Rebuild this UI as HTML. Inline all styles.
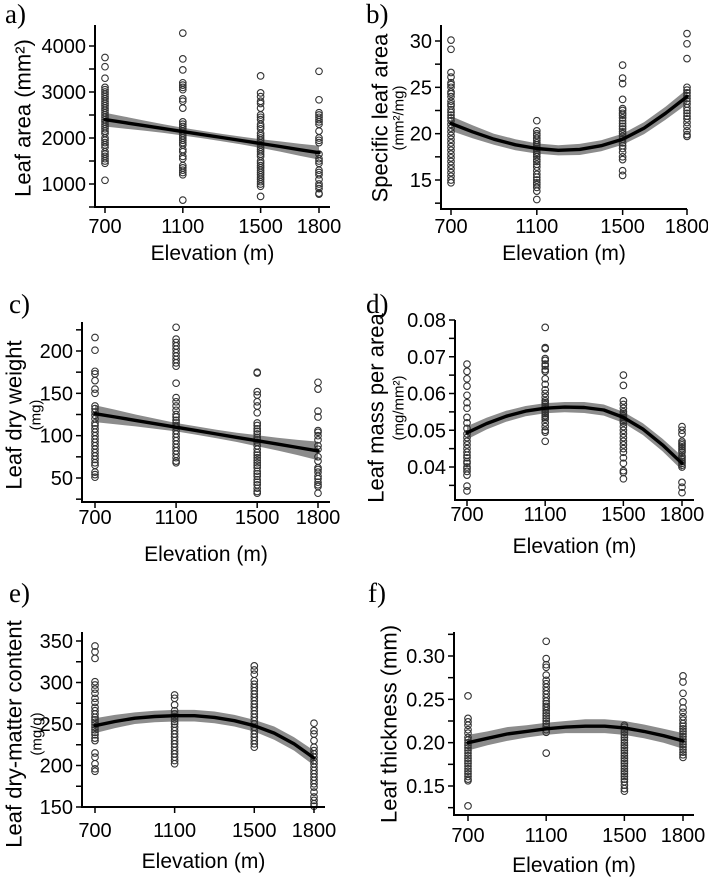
<!DOCTYPE html>
<html><head><meta charset="utf-8">
<style>
body{margin:0;background:#fff;}
svg{display:block;font-family:"Liberation Sans",Arial,sans-serif;}
.tk{font-size:20px;fill:#000;}
.xt{font-size:21px;fill:#000;}
.pl{font-family:"Liberation Serif",serif;font-size:27px;fill:#000;}
</style></head>
<body>
<svg id="fig" width="708" height="879" viewBox="0 0 708 879"></svg>
<script>
const elevations = [700, 1100, 1500, 1800];
const fitElev = [700,800,900,1000,1100,1200,1300,1400,1500,1600,1700,1800];

// a) Leaf area
const leafArea700 = [3750,3550,3300,3100,3050,3000,2950,2900,2850,2800,2750,2700,2650,2600,2550,2500,2450,2400,2350,2300,2250,2200,2150,2100,2000,1950,1900,1850,1800,1700,1650,1600,1550,1500,1450,1080];
const leafArea1100 = [4280,3720,3480,3200,3150,3100,3050,2850,2800,2650,2350,2300,2250,2200,2150,2100,2050,2000,1950,1900,1850,1750,1700,1600,1550,1400,1350,1300,1250,1200,650];
const leafArea1500 = [3350,2980,2900,2800,2750,2650,2500,2450,2400,2300,2250,2200,2100,2050,2000,1950,1900,1850,1800,1750,1700,1650,1600,1500,1450,1400,1350,1300,1250,1200,1150,1100,1050,1000,950,730];
const leafArea1800 = [3450,2830,2550,2500,2450,2400,2350,2300,2150,2000,1950,1900,1650,1550,1500,1450,1300,1250,1200,1100,1000,950,900,800,780];
const leafAreaFit = [2400,2335,2270,2205,2140,2075,2010,1945,1880,1815,1745,1680];
const leafAreaBand = [150,130,110,95,85,80,80,85,95,110,130,150];
const leafAreaTicks = [1000,2000,3000,4000];

// b) Specific leaf area
const sla700 = [30.1,29.1,26.6,26.1,25.5,25.3,25,24.5,24.3,24,23.5,23.2,23,22.6,22.3,22,21.7,21.4,21,20.6,20.2,19.8,19.4,19,18.6,18.2,17.8,17.4,17,16.6,16.2,15.8,15.4,15,14.7];
const sla1100 = [21.4,20.3,20,19.8,19.5,19.3,19,18.8,18.6,18.4,18.2,18,17.8,17.5,17.2,17,16.7,16.4,16,15.6,15.3,15,14.7,14.5,14.2,13.8,12.9];
const sla1500 = [27.4,26,25.4,23.7,22.7,22.5,22.2,22,21.7,21.4,21.1,20.8,20.5,20.2,20,19.7,19.4,19,18.7,18.4,18,17.5,17.2,16,15.5];
const sla1800 = [30.8,29.7,28.1,25,24.7,24.4,24.1,23.8,23.5,23.2,22.8,22.5,22.2,21.9,21.6,21.2,20.8,20.3,19.9,19.7];
const slaFit = [21.1,20.2,19.4,18.8,18.4,18.2,18.3,18.7,19.4,20.6,22.2,24.0];
const slaBand = [0.8,0.7,0.6,0.6,0.55,0.55,0.6,0.6,0.6,0.65,0.7,0.8];
const slaTicks = [15,20,25,30];

// c) Leaf dry weight
const ldw700 = [216,201,176,173,165,155,150,135,132,128,124,120,115,112,108,104,100,96,92,88,84,80,76,72,68,65,57,54,51];
const ldw1100 = [228,214,210,206,202,198,194,190,186,182,162,145,140,135,130,125,122,118,115,112,110,106,102,98,94,90,86,82,78,74,70,68];
const ldw1500 = [175,174,152,148,140,135,127,115,112,108,105,102,98,95,92,88,84,80,77,74,71,68,65,62,58,55,52,48,45,42,38,34,32];
const ldw1800 = [163,155,129,122,106,104,100,95,88,84,75,70,62,60,57,52,49,45,42,40,32];
const ldwFit = [126,122,118,114,110,106,102,98,94,90,86,82];
const ldwBand = [10,8.5,7,6,5,5,5,5.5,6.5,7.5,9,11];
const ldwTicks = [50,100,150,200];

// d) Leaf mass per area
const lma700 = [.068,.066,.064,.062,.0595,.0575,.056,.0535,.052,.0505,.049,.048,.047,.046,.045,.044,.0432,.0425,.0415,.041,.040,.0395,.0388,.0378,.0348,.0335];
const lma1100 = [.078,.0725,.0722,.0695,.069,.068,.0675,.0665,.066,.064,.0625,.061,.060,.059,.058,.0575,.057,.0565,.056,.0555,.055,.0545,.054,.0535,.053,.052,.051,.050,.0495,.047];
const lma1500 = [.065,.0622,.058,.057,.056,.055,.0545,.054,.0535,.053,.0525,.052,.051,.050,.049,.048,.047,.046,.045,.044,.0425,.041,.039,.0385,.0368];
const lma1800 = [.051,.050,.049,.047,.0465,.046,.0455,.045,.0445,.044,.043,.0425,.042,.0415,.041,.0405,.040,.0358,.0345,.033];
const lmaFit = [.0493,.0518,.0538,.0552,.0560,.0563,.0562,.0555,.0535,.0503,.0460,.0410];
const lmaBand = [.0018,.0016,.0015,.0014,.0014,.0014,.0015,.0015,.0015,.0016,.0017,.0019];
const lmaTicks = [0.04,0.05,0.06,0.07,0.08];

// e) Leaf dry-matter content
const ldmc700 = [344,337,329,301,297,292,287,281,276,270,266,262,258,255,252,249,246,243,240,237,233,230,215,210,202,196,193];
const ldmc1100 = [285,281,273,266,262,259,256,253,250,246,242,238,234,230,226,222,218,214,210,206,202];
const ldmc1500 = [320,315,310,302,298,294,290,286,282,278,274,270,266,262,258,254,250,246,242,238,234,230,226,222];
const ldmc1800 = [251,242,238,230,222,218,214,210,206,202,198,194,190,186,182,178,174,168,162,158,154,151];
const ldmcFit = [248,253,257,259,260,260,258,254,248,239,226,209];
const ldmcBand = [9,8,7,7,7,7,7,7,7,8,8,9];
const ldmcTicks = [150,200,250,300,350];

// f) Leaf thickness
const lt700 = [.254,.228,.224,.22,.215,.211,.206,.203,.2,.197,.194,.191,.188,.185,.182,.179,.176,.173,.17,.167,.164,.161,.158,.156,.127];
const lt1100 = [.317,.297,.29,.287,.278,.272,.268,.264,.26,.256,.252,.248,.245,.242,.24,.237,.234,.231,.228,.225,.222,.219,.215,.212,.188];
const lt1500 = [.22,.218,.215,.212,.209,.206,.203,.2,.197,.194,.191,.188,.185,.182,.179,.176,.173,.17,.167,.164,.161,.158,.155,.151,.147,.144];
const lt1800 = [.277,.27,.257,.247,.24,.235,.23,.226,.222,.219,.216,.213,.21,.207,.204,.201,.198,.195,.192,.189,.186,.183];
const ltFit = [.200,.205,.210,.213,.216,.218,.219,.219,.217,.213,.208,.202];
const ltBand = [.009,.008,.008,.007,.007,.007,.008,.008,.008,.008,.008,.009];
const ltTicks = [0.15,0.20,0.25,0.30];

const NS = "http://www.w3.org/2000/svg";
const svg = document.getElementById('fig');
function mk(tag, attrs, parent){const e=document.createElementNS(NS,tag);for(const k in attrs)e.setAttribute(k,attrs[k]);(parent||svg).appendChild(e);return e;}

const panels = [
 {id:'a',label:'a)',lx:5,ly:23,groups:[leafArea700,leafArea1100,leafArea1500,leafArea1800],fit:leafAreaFit,band:leafAreaBand,ticks:leafAreaTicks,fmt:v=>String(v),minor:500,
  ax:95,top:25,bot:207,right:330,x1:105,x2:319,v1:4000,p1:46,v2:1000,p2:184,xlab:233,elab:260,
  title:['Leaf area (mm²)'],tx:[23],ty:118},
 {id:'b',label:'b)',lx:366,ly:23,groups:[sla700,sla1100,sla1500,sla1800],fit:slaFit,band:slaBand,ticks:slaTicks,fmt:v=>String(v),minor:2.5,
  ax:441,top:25,bot:209,right:687,x1:451,x2:687,v1:30,p1:41,v2:15,p2:180,xlab:233,elab:260,
  title:['Specific leaf area','(mm²/mg)'],tx:[380,399],ty:118},
 {id:'c',label:'c)',lx:9,ly:313,groups:[ldw700,ldw1100,ldw1500,ldw1800],fit:ldwFit,band:ldwBand,ticks:ldwTicks,fmt:v=>String(v),minor:25,
  ax:82,top:322,bot:502,right:330,x1:95,x2:318,v1:200,p1:351,v2:50,p2:478,xlab:524,elab:561,
  title:['Leaf dry weight','(mg)'],tx:[14,36],ty:415},
 {id:'d',label:'d)',lx:366,ly:313,groups:[lma700,lma1100,lma1500,lma1800],fit:lmaFit,band:lmaBand,ticks:lmaTicks,fmt:v=>v.toFixed(2),minor:0.005,
  ax:455,top:320,bot:500,right:694,x1:467,x2:682,v1:0.08,p1:320,v2:0.04,p2:467,xlab:521,elab:553,
  title:['Leaf mass per area','(mg/mm²)'],tx:[376,399],ty:408},
 {id:'e',label:'e)',lx:9,ly:602,groups:[ldmc700,ldmc1100,ldmc1500,ldmc1800],fit:ldmcFit,band:ldmcBand,ticks:ldmcTicks,fmt:v=>String(v),minor:25,
  ax:82,top:632,bot:807,right:325,x1:95,x2:314,v1:350,p1:641,v2:150,p2:807,xlab:837,elab:868,
  title:['Leaf dry-matter content','(mg/g)'],tx:[14,37],ty:734},
 {id:'f',label:'f)',lx:368,ly:602,groups:[lt700,lt1100,lt1500,lt1800],fit:ltFit,band:ltBand,ticks:ltTicks,fmt:v=>v.toFixed(2),minor:0.025,
  ax:454,top:632,bot:815,right:694,x1:468,x2:683,v1:0.30,p1:656,v2:0.15,p2:786,xlab:842,elab:872,
  title:['Leaf thickness (mm)'],tx:[389],ty:724}
];

panels.forEach(p=>{
  const g = mk('g',{});
  
  
  const xs = e => p.x1 + (e-700)*(p.x2-p.x1)/1100;
  const ys = v => p.p2 + (v-p.v2)*(p.p1-p.p2)/(p.v1-p.v2);

  const pl = mk('text',{x:p.lx,y:p.ly,class:'pl'},g); pl.textContent=p.label;
  
  

  let up=[],dn=[];
  fitElev.forEach((e,i)=>{up.push(xs(e).toFixed(1)+','+ys(p.fit[i]+p.band[i]).toFixed(1));dn.unshift(xs(e).toFixed(1)+','+ys(p.fit[i]-p.band[i]).toFixed(1));});
  const band = mk('polygon',{points:up.concat(dn).join(' '),fill:'#8c8c8c',stroke:'none'},g);
  
  

  p.groups.forEach((arr,gi)=>{
    arr.forEach(v=>{
      const c = mk('circle',{cx:xs(elevations[gi]).toFixed(1),cy:ys(v).toFixed(1),r:3.3,fill:'none',stroke:'#333',"stroke-width":1.1},g);
      
      
    });
  });

  const fl = mk('polyline',{points:fitElev.map((e,i)=>xs(e).toFixed(1)+','+ys(p.fit[i]).toFixed(1)).join(' '),fill:'none',stroke:'#000','stroke-width':3.4,'stroke-linejoin':'round','stroke-linecap':'round'},g);
  
  

  const ya = mk('line',{x1:p.ax,y1:p.top,x2:p.ax,y2:p.bot,stroke:'#000','stroke-width':2},g);
  
  
  const xa = mk('line',{x1:p.ax-1,y1:p.bot,x2:p.right,y2:p.bot,stroke:'#000','stroke-width':2},g);
  
  

  const lo = Math.min(p.v1,p.v2);
  for(let k=-6;k<=40;k++){
    const v = Math.round((lo + k*p.minor)*10000)/10000;
    const y = ys(v);
    if(y < p.top-1 || y > p.bot+0.5) continue;
    mk('line',{x1:p.ax-6,y1:y,x2:p.ax,y2:y,stroke:'#000','stroke-width':1.5},g);
  }
  p.ticks.forEach(v=>{
    const t = mk('text',{x:p.ax-9,y:ys(v)+7,class:'tk','text-anchor':'end'},g);
    t.textContent = p.fmt(v);
    
    
  });
  elevations.forEach(e=>{
    mk('line',{x1:xs(e),y1:p.bot,x2:xs(e),y2:p.bot+6,stroke:'#000','stroke-width':1.5},g);
    const t = mk('text',{x:xs(e),y:p.xlab,class:'tk','text-anchor':'middle'},g);
    t.textContent = String(e);
    
    
  });
  const xt = mk('text',{x:(p.ax+p.right)/2,y:p.elab,class:'xt','text-anchor':'middle'},g);
  xt.textContent='Elevation (m)';
  
  
  p.title.forEach((s,i)=>{
    const fs = i===0?22:15;
    const t = mk('text',{x:p.tx[i],y:p.ty,'font-size':fs,'text-anchor':'middle','dominant-baseline':'central',transform:'rotate(-90 '+p.tx[i]+' '+p.ty+')'},g);
    t.textContent = s;
    
    
  });
});
</script>
</body></html>
